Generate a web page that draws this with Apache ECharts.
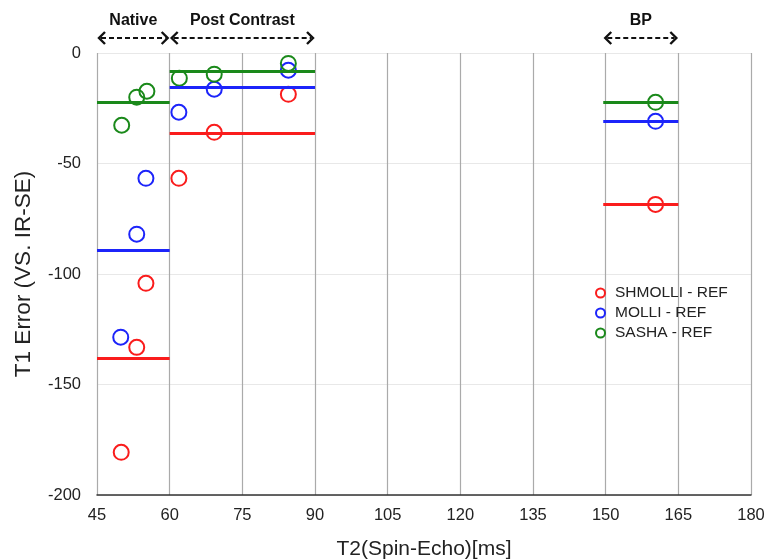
<!DOCTYPE html>
<html>
<head>
<meta charset="utf-8">
<script src="https://cdn.jsdelivr.net/npm/echarts@6/dist/echarts.min.js"></script>
<style>
html, body { margin: 0; padding: 0; background: #fff; }
#chart { width: 769px; height: 559px; }
</style>
</head>
<body>
<div id="chart"></div>
<script>
// scatter points
var shmolliX = [50.0, 53.2, 55.1, 61.9, 69.2, 84.5, 160.3];
var shmolliY = [-180.7, -133.2, -104.2, -56.7, -35.9, -18.7, -68.5];
var molliX = [55.1, 53.2, 49.9, 61.9, 69.2, 84.5, 160.3];
var molliY = [-56.7, -82.0, -128.6, -26.8, -16.4, -7.8, -30.9];
var sashaX = [50.1, 53.2, 55.3, 62.0, 69.2, 84.5, 160.3];
var sashaY = [-32.7, -20.0, -17.3, -11.4, -9.6, -4.7, -22.3];

// group means (horizontal bars)
var groupNames = ['Native', 'Post Contrast', 'BP'];
var groupStart = [45, 60, 149.5];
var groupEnd = [60, 90, 165];
var meanShmolli = [-138.1, -36.3, -68.5];
var meanMolli = [-89.3, -15.5, -30.9];
var meanSasha = [-22.3, -8.4, -22.3];

var seriesNames = ['SHMOLLI - REF', 'MOLLI - REF', 'SASHA - REF'];
var colors = ['#fa1c1c', '#1c24fa', '#1a891a'];

var font = "'Liberation Sans', Arial, sans-serif";

function pairs(xs, ys) {
    return xs.map(function (x, i) { return [x, ys[i]]; });
}

function meanLines(means) {
    return means.map(function (m, i) {
        return [{ coord: [groupStart[i], m] }, { coord: [groupEnd[i], m] }];
    });
}

function makeSeries(name, color, xs, ys, means) {
    return {
        name: name,
        type: 'scatter',
        symbol: 'circle',
        symbolSize: 15,
        itemStyle: { color: 'rgba(255,255,255,0)', borderColor: color, borderWidth: 2, opacity: 1 },
        emphasis: { disabled: true },
        data: pairs(xs, ys),
        markLine: {
            silent: true,
            symbol: 'none',
            label: { show: false },
            lineStyle: { color: color, width: 3, type: 'solid', opacity: 1 },
            data: meanLines(means)
        },
        z: 3
    };
}

var myChart = echarts.init(document.getElementById('chart'));

var option = {
    animation: false,
    backgroundColor: '#fff',
    grid: { left: 97, right: 18, top: 53, bottom: 64, outerBoundsMode: 'none', containLabel: false },
    legend: {
        orient: 'vertical',
        left: 590,
        top: 280,
        itemWidth: 9,
        itemHeight: 9,
        itemGap: 4,
        icon: 'circle',
        textStyle: { fontFamily: font, fontSize: 15.5, color: '#222', lineHeight: 15.5, padding: [0, 0, 0, 5] },
        data: seriesNames.map(function (n, i) {
            return { name: n, itemStyle: { color: '#fff', borderColor: colors[i], borderWidth: 2 } };
        })
    },
    xAxis: {
        type: 'value',
        min: 45,
        max: 180,
        interval: 15,
        name: 'T2(Spin-Echo)[ms]',
        nameLocation: 'middle',
        nameGap: 44,
        nameTextStyle: { fontFamily: font, fontSize: 21, color: '#222' },
        axisLine: { show: true, onZero: false, lineStyle: { color: '#333', width: 1.5 } },
        axisTick: { show: false },
        axisLabel: { fontFamily: font, fontSize: 16.5, color: '#222', margin: 12 },
        splitLine: { show: true, lineStyle: { color: '#aaaaaa', width: 1.2 } }
    },
    yAxis: {
        type: 'value',
        min: -200,
        max: 0,
        interval: 50,
        name: 'T1 Error (VS. IR-SE)',
        nameLocation: 'middle',
        nameGap: 62,
        nameTextStyle: { fontFamily: font, fontSize: 22.5, color: '#222' },
        axisLine: { show: false },
        axisTick: { show: false },
        axisLabel: { fontFamily: font, fontSize: 16.5, color: '#222', margin: 16 },
        splitLine: { show: true, lineStyle: { color: '#e8e8e8', width: 1 } }
    },
    series: [
        makeSeries(seriesNames[0], colors[0], shmolliX, shmolliY, meanShmolli),
        makeSeries(seriesNames[1], colors[1], molliX, molliY, meanMolli),
        makeSeries(seriesNames[2], colors[2], sashaX, sashaY, meanSasha)
    ]
};

myChart.setOption(option);

// double-headed dashed arrows + group titles above the plot
var top0 = myChart.convertToPixel({ gridIndex: 0 }, [45, 0])[1];
var arrowY = top0 - 15;
var labelY = top0 - 32;
var graphics = [];
groupNames.forEach(function (g, i) {
    var x0 = myChart.convertToPixel({ gridIndex: 0 }, [groupStart[i], 0])[0] + 1;
    var x1 = myChart.convertToPixel({ gridIndex: 0 }, [groupEnd[i], 0])[0] - 1;
    var h = 6;
    graphics.push({
        type: 'line',
        shape: { x1: x0 + 3, y1: arrowY, x2: x1 - 3, y2: arrowY },
        style: { stroke: '#111', lineWidth: 2.2, lineDash: [5, 3] }
    });
    graphics.push({
        type: 'polyline',
        shape: { points: [[x0 + h + 1, arrowY - h], [x0 + 1, arrowY], [x0 + h + 1, arrowY + h]] },
        style: { stroke: '#111', lineWidth: 2.4, fill: null }
    });
    graphics.push({
        type: 'polyline',
        shape: { points: [[x1 - h - 1, arrowY - h], [x1 - 1, arrowY], [x1 - h - 1, arrowY + h]] },
        style: { stroke: '#111', lineWidth: 2.4, fill: null }
    });
    graphics.push({
        type: 'text',
        x: (x0 + x1) / 2,
        y: labelY,
        style: {
            text: g,
            fontFamily: font,
            fontSize: 16,
            fontWeight: 'bold',
            fill: '#111',
            align: 'center',
            verticalAlign: 'middle'
        }
    });
});
myChart.setOption({ graphic: graphics });
</script>
</body>
</html>
